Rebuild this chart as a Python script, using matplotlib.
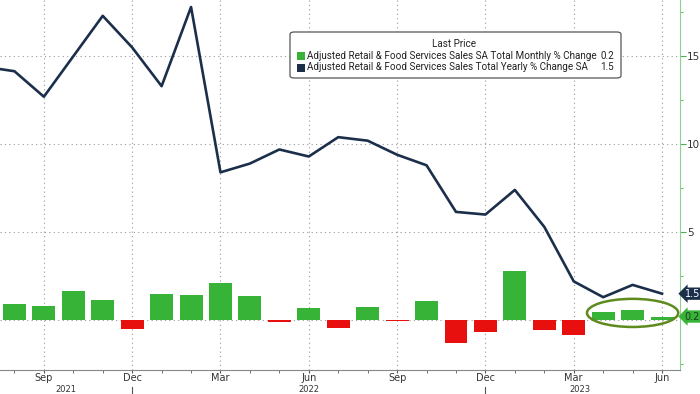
import matplotlib
matplotlib.use('Agg')
import matplotlib.pyplot as plt
from matplotlib.patches import Ellipse, FancyBboxPatch, Rectangle
import numpy as np

# Jul 2021 .. Jun 2023
months = ['Jul', 'Aug', 'Sep', 'Oct', 'Nov', 'Dec',
          'Jan', 'Feb', 'Mar', 'Apr', 'May', 'Jun', 'Jul', 'Aug', 'Sep', 'Oct', 'Nov', 'Dec',
          'Jan', 'Feb', 'Mar', 'Apr', 'May', 'Jun']
yearly = [14.4, 14.15, 12.7, 15.0, 17.3, 15.5,
          13.3, 17.8, 8.4, 8.9, 9.7, 9.3, 10.4, 10.2, 9.4, 8.8, 6.15, 6.0,
          7.4, 5.3, 2.2, 1.3, 2.0, 1.5]
# Aug 2021 .. Jun 2023
monthly = [0.9, 0.78, 1.65, 1.15, -0.5,
           1.48, 1.4, 2.1, 1.36, -0.1, 0.68, -0.47, 0.72, -0.05, 1.06, -1.3, -0.66,
           2.8, -0.59, -0.83, 0.47, 0.55, 0.2]
years = ['2021', '2022', '2023']
year_pos = [2.75, 11.0, 20.2]
year_breaks = [5.0, 17.0]

green = '#37b337'
red = '#e8100f'
navy = '#1b2f4b'

fig = plt.figure(figsize=(7, 3.94), dpi=100)
ax = fig.add_axes([0, 24 / 394, 680 / 700, 370 / 394])

x_line = np.arange(len(yearly))
x_bar = np.arange(1, len(yearly))
bar_colors = [green if v >= 0 else red for v in monthly]
ax.bar(x_bar, monthly, width=0.78, color=bar_colors, zorder=3)
ax.plot(x_line, yearly, color=navy, lw=1.9, zorder=4)

# ticks and grid
quarter = [i for i, m in enumerate(months) if m in ('Sep', 'Dec', 'Mar', 'Jun')]
ax.set_xticks(quarter)
ax.set_xticklabels([months[i] for i in quarter], fontsize=7, color='#333333')
ax.set_xticks(x_line, minor=True)
ax.tick_params(axis='x', which='major', length=2.5, color='#555555', pad=-0.5)
ax.tick_params(axis='x', which='minor', length=2.5, color='#555555')
for q in quarter:
    ax.axvline(q, color='#999999', ls=(0, (1, 3)), lw=0.8, zorder=1)
for g in [0, 5, 10, 15]:
    ax.axhline(g, color='#999999', ls=(0, (1, 3)), lw=0.8, zorder=1)

ax.yaxis.tick_right()
ax.set_yticks([5, 10, 15])
ax.set_yticks([-2.5, 2.5, 7.5, 12.5, 17.5], minor=True)
ax.tick_params(axis='y', which='major', length=4, color='#4caf50', labelsize=7.5,
               labelcolor='#333333', pad=1)
ax.tick_params(axis='y', which='minor', length=2, color='#4caf50')

ax.set_xlim(0.51, 23.61)
ax.set_ylim(-2.84, 18.2)

for s in ['top', 'left']:
    ax.spines[s].set_visible(False)
ax.spines['right'].set_color('#8fcf8f')
ax.spines['bottom'].set_color('#888888')

# year labels at the very bottom
for yl, yp in zip(years, year_pos):
    ax.annotate(yl, xy=(yp, 0), xycoords=('data', 'figure pixels'), xytext=(0, 0),
                textcoords='offset points', ha='center', va='bottom', fontsize=6,
                color='#333333', annotation_clip=False)
for b in year_breaks:
    ax.plot([b, b], [-0.045, -0.075], transform=ax.get_xaxis_transform(), color='#555555',
            lw=0.8, clip_on=False)

# highlight the last three months
cx = np.mean(x_bar[-3:])
cy = np.mean(monthly[-3:])
ax.add_patch(Ellipse((cx, cy), 3.1, 1.6, fill=False, ec='#5e8a1e', lw=1.8, zorder=5))

# last value tags on right axis
def tag(value, fc, tc):
    ax.annotate(f'{value:.1f}', xy=(1.0, value), xycoords=('axes fraction', 'data'),
                xytext=(3.5, 0), textcoords='offset points', ha='left', va='center',
                fontsize=7, color=tc, annotation_clip=False,
                bbox=dict(boxstyle='larrow,pad=0.12', fc=fc, ec='none'))

tag(yearly[-1], navy, 'white')
tag(monthly[-1], green, '#1e3d1e')

# legend box
fig.patches.append(FancyBboxPatch((290 / 700, 1 - 78 / 394), 331 / 700, 46 / 394,
                                  boxstyle='round,pad=0,rounding_size=0.006',
                                  transform=fig.transFigure, fc='white', ec='#555555',
                                  lw=0.9, zorder=10))
font = ['Roboto', 'DejaVu Sans']
fig.text(454 / 700, 1 - 44 / 394, 'Last Price', ha='center', va='center', fontsize=7.1,
         family=font, color='#222222', zorder=11)
entries = [('Adjusted Retail & Food Services Sales SA Total Monthly % Change', green, monthly[-1]),
           ('Adjusted Retail & Food Services Sales Total Yearly % Change SA', navy, yearly[-1])]
for k, (lab, col, val) in enumerate(entries):
    yy = 1 - (56 + 11.5 * k) / 394
    fig.patches.append(Rectangle((297 / 700, yy - 4 / 394), 8 / 700, 8 / 394,
                                 transform=fig.transFigure, fc=col, ec='none', zorder=11))
    fig.text(307 / 700, yy, lab, ha='left', va='center', fontsize=7.1, family=font,
             color='#222222', zorder=11)
    fig.text(614 / 700, yy, f'{val:.1f}', ha='right', va='center', fontsize=7.1,
             family=font, color='#222222', zorder=11)

fig.savefig('out.png', dpi=100)
